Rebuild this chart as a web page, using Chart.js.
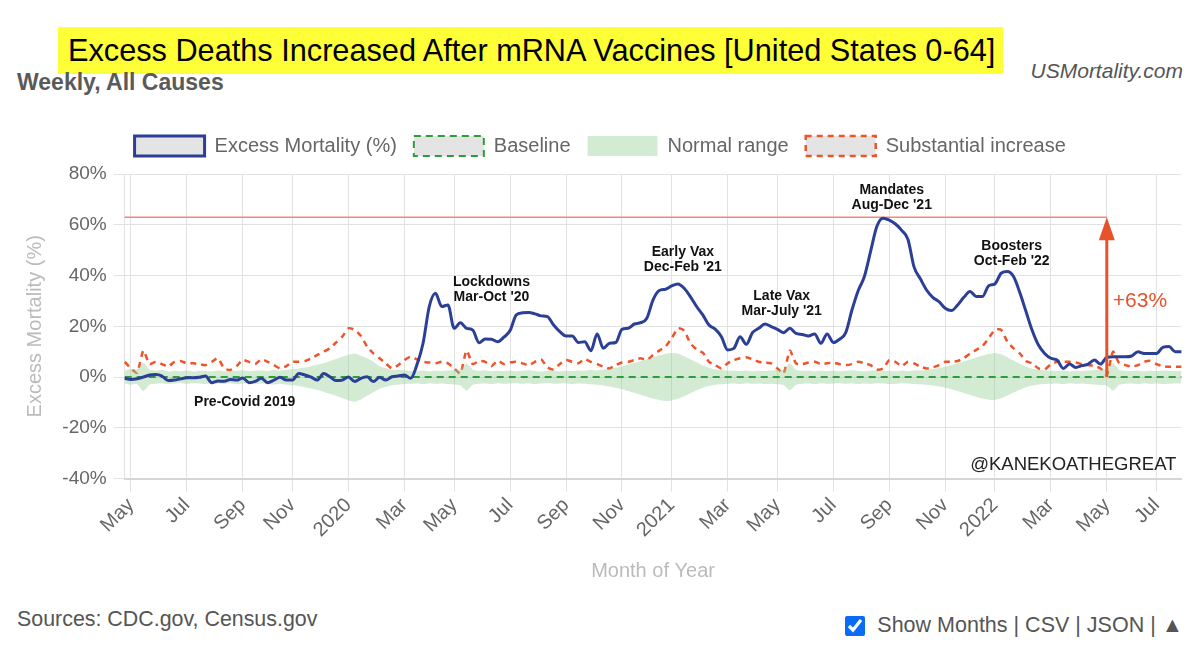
<!DOCTYPE html>
<html>
<head>
<meta charset="utf-8">
<script src="https://cdn.jsdelivr.net/npm/chart.js@4.4.1/dist/chart.umd.min.js"></script>
<style>
  body { margin: 0; background: #fff; font-family: "Liberation Sans", Arial, sans-serif; }
  #page { position: relative; width: 1200px; height: 655px; overflow: hidden; }
  .title { position: absolute; left: 58px; top: 27px; width: 945px; height: 47px; background: #ffff38;
           font-size: 30.7px; line-height: 47px; color: #000; padding-left: 10px; box-sizing: border-box; white-space: nowrap; }
  .sub { position: absolute; left: 17px; top: 69px; font-size: 23px; font-weight: bold; color: #5a5a5a; }
  .site { position: absolute; right: 17px; top: 59px; font-size: 21px; font-style: italic; color: #555; }
  .src { position: absolute; left: 17px; top: 607px; font-size: 21.4px; color: #555; }
  .links { position: absolute; right: 17px; top: 613px; font-size: 21.5px; color: #555; display: flex; align-items: center; }
  .links input { width: 20px; height: 20px; margin: 0 12px 0 0; accent-color: #0a6cf5; }
  #wrap { position: absolute; left: 0; top: 119px; width: 1200px; height: 468px; }
</style>
</head>
<body>
<div id="page">
  <div class="title">Excess Deaths Increased After mRNA Vaccines [United States 0-64]</div>
  <div class="sub">Weekly, All Causes</div>
  <div class="site">USMortality.com</div>
  <div id="wrap"><canvas id="chart"></canvas></div>
  <div class="src">Sources: CDC.gov, Census.gov</div>
  <div class="links"><input type="checkbox" checked>Show Months | CSV | JSON | ▲</div>
</div>
<script>
// weekly excess mortality (%), from week ending 2019-04-27
const excess = [
  -0.5, -1, -0.7, 0, 0.8, 1, 0.4, -1.4, -1.2, -0.7,
  -0.3, -0.3, -0.1, 0.4, -2.2, -1.6, -1.7, -1, -1.2, -0.4,
  -2.2, -1.7, -0.5, -2.2, -1.2, -0.1, -1.2, -1.2, 1.4, 0.8,
  0, -1.2, 1.4, 0.1, -1.4, -1.2, 0, -1.8, -0.5, 0.1,
  -1.8, -0.1, -1.2, 0.1, 0.4, 0.8, -0.5, 4.7, 13.3, 27.8,
  33, 27.8, 28.4, 19.2, 21.4, 19.2, 18.5, 13.5, 15, 14.9,
  13.9, 15.7, 18.3, 24.5, 25.3, 25.4, 24.9, 24.1, 23.8, 20.5,
  17.9, 16.2, 16.2, 13.6, 13.9, 10.4, 17, 11.3, 13.3, 13.6,
  18.8, 19.2, 20.9, 21.4, 23.2, 30.4, 34.1, 34.6, 35.9, 36.7,
  35, 31.7, 27.8, 24.5, 20.5, 18.9, 15.9, 10.7, 11.3, 15.9,
  12.9, 17.5, 19.2, 20.9, 19.9, 18.8, 17.5, 19.2, 17.2, 16.8,
  16.2, 17, 13.3, 17, 13.6, 14.9, 17.5, 26.4, 34, 39.6,
  49.5, 59.3, 62.6, 61.8, 60.3, 57.8, 54.3, 43.3, 38.7, 34.3,
  31.4, 29.7, 27.1, 26.2, 28.4, 31.4, 33.7, 31.7, 31.7, 36,
  36.7, 40.9, 41.6, 39.6, 33.3, 25.8, 18.3, 12.6, 9.3, 7.4,
  6.7, 3.4, 5.1, 3.8, 4.5, 5.1, 6.7, 5.1, 7.8, 8,
  8, 8, 8.3, 10, 9.3, 9.3, 9.3, 11.7, 12, 10,
  10
];
// substantial increase threshold (%)
const substantial = [
  6, 3.4, 1.7, 10.4, 5.1, 6, 5.1, 4.1, 6, 6.3,
  5.4, 5.4, 5.1, 4.7, 6, 7.4, 3.4, 2.8, 4.3, 6.7,
  6, 5.1, 7, 6, 4.7, 3.4, 4.3, 6, 6, 6.3,
  7.4, 8.7, 10, 11.3, 13.6, 15.9, 19.2, 18.6, 16.2, 12,
  9.3, 7.4, 5.4, 3.4, 4.7, 6.7, 8, 7, 6, 5.7,
  5.4, 6, 5.4, 3.4, 1.4, 10.4, 5.1, 6.3, 6, 4.3,
  6.4, 5.1, 5.7, 6, 5.4, 4.7, 6, 7, 3.8, 3,
  5.1, 6.7, 6, 5.4, 7, 6, 5.1, 4.1, 3.4, 4.7,
  5.7, 6, 6.7, 7.4, 6.7, 8.7, 10.4, 12, 15.3, 19.2,
  18.3, 13.3, 10.9, 9.6, 6, 4.7, 3.4, 5.4, 6.7, 7.4,
  7.8, 7, 6, 5.7, 5.4, 3.4, 1.4, 10.4, 5.4, 5.1,
  5.7, 6, 5.1, 5.4, 5.7, 5.1, 4.7, 5.1, 6, 5.4,
  4.7, 3, 3.4, 6.7, 6, 4.3, 6, 5.4, 4.1, 3.4,
  3.8, 4.7, 6, 6, 6.3, 7.4, 9.3, 10.7, 12.2, 15.3,
  18.6, 18.6, 13.9, 11.3, 9.3, 6.3, 5.4, 3.4, 3, 5,
  6, 6, 6, 5.7, 5.1, 4.7, 4.3, 3.4, 0.8, 10,
  5.4, 4.7, 4.1, 4.7, 6, 6.4, 5.1, 4.3, 4.1, 4.1,
  4.1
];
// normal range, upper and lower edge (%)
const normalHigh = [
  2.5, 3.2, 3, 5.5, 3, 2.6, 2.8, 2.2, 2.5, 2.3,
  2.6, 2.2, 2.5, 2.4, 2.2, 2.6, 2.3, 2.5, 2.4, 2.7,
  2.3, 2.5, 2.6, 2.4, 2.8, 2.5, 2.9, 3.1, 3.4, 3.8,
  4.3, 4.8, 5.4, 6.3, 7.1, 8, 8.8, 9.3, 8.4, 7.4,
  6, 4.3, 3.6, 2.8, 2.9, 2.7, 2.5, 2.4, 2.6, 2.3,
  2.5, 2.4, 2.6, 2.8, 3, 5.2, 2.9, 2.5, 2.7, 2.3,
  2.5, 2.4, 2.6, 2.3, 2.5, 2.7, 2.4, 2.2, 2.5, 2.6,
  2.3, 2.5, 2.4, 2.6, 2.5, 2.8, 2.6, 3, 3.3, 3.7,
  4.2, 4.9, 5.5, 6.2, 7, 7.8, 8.6, 9.2, 9.5, 9.3,
  8.2, 7, 5.8, 4.5, 3.6, 3, 2.8, 2.6, 2.5, 2.4,
  2.6, 2.3, 2.5, 2.4, 2.6, 2.8, 3, 5.3, 2.8, 2.5,
  2.6, 2.3, 2.5, 2.4, 2.6, 2.3, 2.5, 2.7, 2.4, 2.3,
  2.5, 2.6, 2.4, 2.5, 2.3, 2.6, 2.4, 2.7, 2.6, 2.9,
  3.2, 3.6, 4.1, 4.7, 5.4, 6.1, 6.9, 7.7, 8.5, 9.1,
  9.5, 9, 7.8, 6.5, 5.2, 4.1, 3.3, 2.9, 2.7, 2.5,
  2.4, 2.6, 2.3, 2.5, 2.4, 2.6, 2.8, 3, 3.2, 5.4,
  2.8, 2.5, 2.4, 2.6, 2.3, 2.5, 2.4, 2.6, 2.5, 2.4,
  2.5
];
const normalLow = [
  -2.5, -3, -2.8, -5.5, -3, -2.6, -2.4, -2.7, -2.5, -2.3,
  -2.6, -2.4, -2.5, -2.7, -2.3, -2.5, -2.6, -2.4, -2.8, -2.5,
  -2.4, -2.6, -2.5, -2.7, -2.9, -2.6, -3, -3.2, -3.5, -4,
  -4.5, -5.1, -5.8, -6.6, -7.4, -8.3, -9.2, -9.7, -8.8, -7.4,
  -6, -4.6, -3.8, -3.2, -2.9, -2.7, -2.6, -2.5, -2.7, -2.4,
  -2.6, -2.5, -2.7, -2.9, -3.2, -5.3, -3, -2.6, -2.5, -2.7,
  -2.4, -2.6, -2.5, -2.3, -2.6, -2.4, -2.7, -2.5, -2.3, -2.6,
  -2.5, -2.4, -2.7, -2.5, -2.6, -2.8, -3, -3.3, -3.7, -4.2,
  -4.8, -5.5, -6.2, -7, -7.8, -8.5, -9, -9.4, -9.2, -8.6,
  -7.6, -6.4, -5.2, -4.2, -3.5, -3, -2.8, -2.6, -2.5, -2.7,
  -2.4, -2.6, -2.5, -2.7, -2.6, -2.8, -3.1, -5.2, -3, -2.6,
  -2.5, -2.7, -2.4, -2.6, -2.5, -2.3, -2.6, -2.4, -2.7, -2.5,
  -2.6, -2.4, -2.5, -2.7, -2.6, -2.4, -2.5, -2.7, -2.8, -3,
  -3.3, -3.7, -4.2, -4.8, -5.5, -6.3, -7.1, -7.9, -8.5, -8.9,
  -9, -8.4, -7.3, -6.1, -5, -4, -3.3, -2.9, -2.7, -2.6,
  -2.5, -2.7, -2.4, -2.6, -2.5, -2.7, -2.9, -3.1, -3.3, -5.3,
  -3, -2.6, -2.5, -2.7, -2.4, -2.6, -2.5, -2.7, -2.6, -2.5,
  -2.5
];
const monthNames = ['Jan', 'Feb', 'Mar', 'Apr', 'May', 'Jun', 'Jul', 'Aug', 'Sep', 'Oct', 'Nov', 'Dec'];
const yTicks = [-40, -20, 0, 20, 40, 60, 80];
const increase = 63;       // the "+63%" marker
const increaseWeek = 158;  // week of the arrow (May 2022)

// week-ending dates
const weeks = [];
for (let d = new Date(Date.UTC(2019, 3, 27)); weeks.length < excess.length; d.setUTCDate(d.getUTCDate() + 7)) {
  weeks.push(d.toISOString().slice(0, 10));
}
const monthOf = i => +weeks[i].slice(5, 7) - 1;
const isTick = i => i > 0 && monthOf(i) !== monthOf(i - 1) && monthOf(i) % 2 === 0;

const notes = [
  { lines: ['Pre-Covid 2019'], week: 19.3, value: -9.9 },
  { lines: ['Lockdowns', "Mar-Oct '20"], week: 59, value: 34.5 },
  { lines: ['Early Vax', "Dec-Feb '21"], week: 89.8, value: 46.2 },
  { lines: ['Late Vax', "Mar-July '21"], week: 105.7, value: 29 },
  { lines: ['Mandates', "Aug-Dec '21"], week: 123.4, value: 70.6 },
  { lines: ['Boosters', "Oct-Feb '22"], week: 142.7, value: 48.7 }
];

const FONT = '"Liberation Sans", Arial, sans-serif';
Chart.defaults.font.family = FONT;
Chart.defaults.color = '#666';

// a little more room between the legend and the plot
const legendGap = {
  id: 'legendGap',
  afterInit(chart) {
    const legend = chart.legend;
    if (!legend) return;
    const fit = legend.fit;
    legend.fit = function () { fit.call(this); this.height += 8; };
  }
};

const overlay = {
  id: 'overlay',
  afterDatasetsDraw(chart) {
    const { ctx, scales: { x, y }, chartArea } = chart;
    ctx.save();
    // arrow
    const ax = x.getPixelForValue(increaseWeek);
    const y0 = y.getPixelForValue(0);
    const y1 = y.getPixelForValue(increase);
    ctx.strokeStyle = '#e8522a';
    ctx.fillStyle = '#e8522a';
    ctx.lineWidth = 3;
    ctx.beginPath();
    ctx.moveTo(ax, y0);
    ctx.lineTo(ax, y1 + 20);
    ctx.stroke();
    ctx.beginPath();
    ctx.moveTo(ax, y1);
    ctx.lineTo(ax - 8, y1 + 23);
    ctx.lineTo(ax + 8, y1 + 23);
    ctx.closePath();
    ctx.fill();
    ctx.font = '21px ' + FONT;
    ctx.textAlign = 'left';
    ctx.textBaseline = 'middle';
    ctx.fillText('+' + increase + '%', ax + 6, y.getPixelForValue(30));
    // period labels
    ctx.fillStyle = '#111';
    ctx.font = 'bold 14px ' + FONT;
    ctx.textAlign = 'center';
    notes.forEach(n => {
      const cx = x.getPixelForValue(n.week);
      const cy = y.getPixelForValue(n.value);
      n.lines.forEach((t, k) => ctx.fillText(t, cx, cy + (k - (n.lines.length - 1) / 2) * 15.5));
    });
    // handle
    ctx.fillStyle = '#222';
    ctx.font = '18.5px ' + FONT;
    ctx.textAlign = 'right';
    ctx.fillText('@KANEKOATHEGREAT', chartArea.right - 5, y.getPixelForValue(-34.7));
    ctx.restore();
  }
};

new Chart(document.getElementById('chart'), {
  type: 'line',
  data: {
    labels: weeks,
    datasets: [
      {
        label: 'Excess Mortality (%)',
        data: excess,
        borderColor: '#2a3f95',
        backgroundColor: '#e4e4e4',
        borderWidth: 3,
        cubicInterpolationMode: 'monotone',
        pointRadius: 0
      },
      {
        label: 'Baseline',
        data: [{ x: weeks[0], y: 0 }, { x: weeks[weeks.length - 1], y: 0 }],
        borderColor: '#2e9c3a',
        backgroundColor: '#e4e4e4',
        borderWidth: 2,
        borderDash: [7, 5],
        pointRadius: 0
      },
      {
        label: 'Normal range',
        data: normalHigh,
        borderWidth: 0,
        borderColor: 'rgba(0,0,0,0)',
        backgroundColor: 'rgba(150, 205, 150, 0.42)',
        fill: '+1',
        tension: 0.2,
        pointRadius: 0
      },
      {
        label: '',
        data: normalLow,
        borderWidth: 0,
        borderColor: 'rgba(0,0,0,0)',
        fill: false,
        tension: 0.2,
        pointRadius: 0
      },
      {
        label: 'Substantial increase',
        data: substantial,
        borderColor: '#ee5428',
        backgroundColor: '#e4e4e4',
        borderWidth: 2.5,
        borderDash: [6, 5],
        tension: 0.2,
        pointRadius: 0
      },
      {
        label: '',
        data: [{ x: weeks[0], y: increase }, { x: weeks[increaseWeek], y: increase }],
        borderColor: '#ee8a78',
        borderWidth: 1.5,
        pointRadius: 0
      }
    ]
  },
  options: {
    responsive: true,
    maintainAspectRatio: false,
    animation: false,
    layout: { padding: { left: 19, right: 18.6, top: 0, bottom: 0 } },
    plugins: {
      tooltip: { enabled: false },
      legend: {
        labels: {
          filter: item => item.text !== '',
          boxWidth: 70,
          boxHeight: 20,
          padding: 17,
          color: '#666',
          font: { size: 20 }
        }
      }
    },
    scales: {
      x: {
        afterBuildTicks: scale => { scale.ticks = scale.ticks.filter(t => isTick(t.value)); },
        ticks: {
          autoSkip: false,
          minRotation: 45,
          maxRotation: 45,
          padding: 2,
          color: '#666',
          font: { size: 20 },
          callback: v => monthOf(v) === 0 ? weeks[v].slice(0, 4) : monthNames[monthOf(v)]
        },
        grid: { color: '#e2e2e2', tickLength: 13 },
        border: { color: '#d6d6d6', width: 2 },
        title: { display: true, text: 'Month of Year', color: '#bbb', font: { size: 20 }, padding: { top: 15, bottom: 4 } }
      },
      y: {
        min: -40,
        max: 80,
        afterBuildTicks: scale => { scale.ticks = yTicks.map(v => ({ value: v })); },
        afterFit: scale => { scale.width = 105.7; },
        ticks: { color: '#666', padding: 7, font: { size: 19 }, callback: v => v + '%' },
        grid: { color: '#e2e2e2', tickLength: 11 },
        border: { color: '#e2e2e2' },
        title: { display: true, text: 'Excess Mortality (%)', color: '#bbb', font: { size: 20 } }
      }
    }
  },
  plugins: [legendGap, overlay]
});
</script>
</body>
</html>
